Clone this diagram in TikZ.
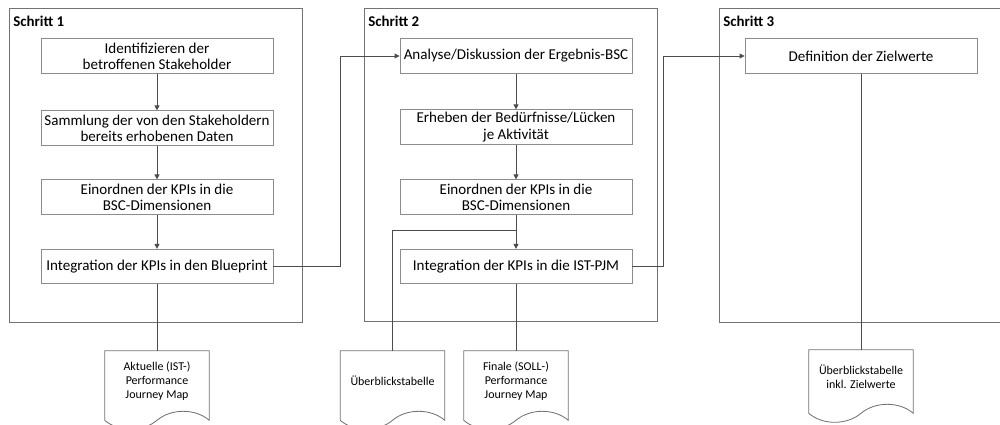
\documentclass[tikz,border=0pt]{standalone}
\usepackage{fontspec}
\setmainfont{Carlito}
\usetikzlibrary{positioning,
calc,
arrows.meta}
\tikzstyle{Arrow} = [
draw=black!70, line width=0.6pt,
-{Triangle[length=3.5pt,width=3.5pt]}
]
\tikzstyle{Line} = [draw=black!70, line width=0.6pt]
\tikzstyle{Step} = [draw=black!45, line width=0.6pt, fill=white,
minimum width=5.8cm, minimum height=0.86cm, align=center, inner sep=1pt,
font=\fontsize{10.7}{11.5}\selectfont]
\tikzstyle{Frame} = [draw=black!55, line width=0.6pt]
\tikzstyle{Title} = [anchor=west, inner sep=0pt, font=\fontsize{10.6}{11.5}\selectfont\bfseries]
\tikzstyle{Doc} = [minimum width=2.6cm, minimum height=1.5cm, align=center, inner sep=1pt,
font=\fontsize{8.5}{10}\selectfont]
\tikzstyle{DocLine} = [draw=black!55, line width=0.6pt]
\newcommand{\docoutline}[1]{%
  \draw[DocLine] (#1.north west) -- (#1.north east) -- ([yshift=-0.225cm]#1.south east)
    .. controls ([xshift=-0.35cm,yshift=0.075cm]#1.south east) and ([xshift=-0.95cm,yshift=0.075cm]#1.south east)
    .. ([yshift=-0.225cm]#1.south)
    .. controls ([xshift=0.95cm,yshift=-0.525cm]#1.south west) and ([xshift=0.35cm,yshift=-0.525cm]#1.south west)
    .. ([yshift=-0.225cm]#1.south west) -- cycle;}

\begin{document}
\begin{tikzpicture}[x=0.025cm, y=-0.025cm]
   \useasboundingbox (0,0) rectangle (1000,424);
   \clip (0,0) rectangle (1000,424);

   % frames
   \draw[Frame] (9,8) rectangle (302,322);
   \draw[Frame] (364,8) rectangle (657,321);
   \draw[Frame] (719,8) rectangle (1010,322);
   \node[Title] (s1) at (13,21) {Schritt 1};
   \node[Title] (s2) at (368,21) {Schritt 2};
   \node[Title] (s3) at (723,21) {Schritt 3};

   % Schritt 1
   \node[Step] (a1) at (157,56) {Identifizieren der\\betroffenen Stakeholder};
   \node[Step] (a2) at (157,128) {Sammlung der von den Stakeholdern\\bereits erhobenen Daten};
   \node[Step] (a3) at (157,197) {Einordnen der KPIs in die\\BSC-Dimensionen};
   \node[Step] (a4) at (157,266.5) {Integration der KPIs in den Blueprint};

   % Schritt 2
   \node[Step] (b1) at (516,56) {Analyse/Diskussion der Ergebnis-BSC};
   \node[Step] (b2) at (516,127) {Erheben der Bedürfnisse/Lücken\\je Aktivität};
   \node[Step] (b3) at (516,197) {Einordnen der KPIs in die\\BSC-Dimensionen};
   \node[Step] (b4) at (516,266.5) {Integration der KPIs in die IST-PJM};

   % Schritt 3
   \node[Step] (c1) at (861,56) {Definition der Zielwerte};

   % Dokumente
   \node[Doc] (d1) at (157,381) {Aktuelle (IST-)\\Performance\\Journey Map};
   \node[Doc] (d2) at (392.5,381) {Überblickstabelle};
   \node[Doc] (d3) at (516,381) {Finale (SOLL-)\\Performance\\Journey Map};
   \node[Doc, minimum height=1.35cm] (d4) at (861,377) {Überblickstabelle\\inkl. Zielwerte};
   \docoutline{d1}
   \docoutline{d2}
   \docoutline{d3}
   \docoutline{d4}

   \draw [Arrow] (a1) to (a2);
   \draw [Arrow] (a2) to (a3);
   \draw [Arrow] (a3) to (a4);
   \draw [Arrow] (b1) to (b2);
   \draw [Arrow] (b2) to (b3);
   \draw [Arrow] (b3) to (b4);
   \draw [Arrow] (a4.east) -- ++(67,0) |- (b1.west);
   \draw [Arrow] (b4.east) -- ++(31,0) |- (c1.west);
   \draw [Line] (b3.south) -- ++(0,16) -| (d2.north);
   \draw [Line] (a4) to (d1);
   \draw [Line] (b4) to (d3);
   \draw [Line] (c1) to (d4);
\end{tikzpicture}
\end{document}
